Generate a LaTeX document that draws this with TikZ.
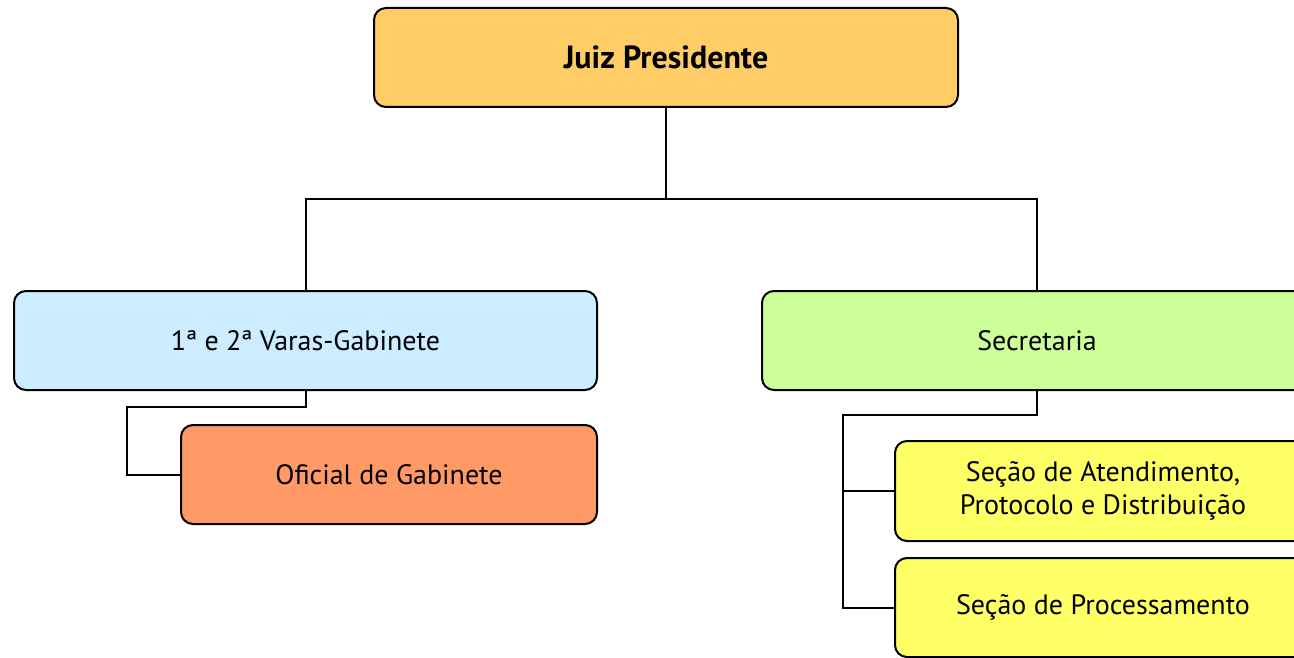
\documentclass[tikz,border=0pt]{standalone}
\usepackage{fontspec}
\setmainfont{PT Sans}
\definecolor{cjuiz}{HTML}{FFCC66}
\definecolor{cvaras}{HTML}{CCECFF}
\definecolor{csecr}{HTML}{CCFF99}
\definecolor{cofic}{HTML}{FF9966}
\definecolor{csec}{HTML}{FFFF66}
\begin{document}
\begin{tikzpicture}[x=1pt,y=-1pt,
  orgbox/.style={draw=black, line width=2pt, rounded corners=12pt, rectangle,
    inner sep=0pt, align=center, font=\fontsize{28}{33}\selectfont},
  link/.style={draw=black, line width=2pt}]
\useasboundingbox (0,0) rectangle (1294,658);
\clip (0,0) rectangle (1294,658);
\node[orgbox, fill=cjuiz, minimum width=584pt, minimum height=99pt, font=\fontsize{32}{38}\selectfont\bfseries] (juiz) at (666,57.5) {Juiz Presidente};
\node[orgbox, fill=cvaras, minimum width=583pt, minimum height=99pt] (varas) at (305.5,340.5) {1ª e 2ª Varas-Gabinete};
\node[orgbox, fill=csecr, minimum width=550pt, minimum height=99pt] (secr) at (1037,340.5) {Secretaria};
\node[orgbox, fill=cofic, minimum width=416pt, minimum height=99pt] (ofic) at (389,474.5) {Oficial de Gabinete};
\node[orgbox, fill=csec, minimum width=416pt, minimum height=100pt] (seca) at (1103,491) {Seção de Atendimento,\\Protocolo e Distribuição};
\node[orgbox, fill=csec, minimum width=416pt, minimum height=99pt] (secp) at (1103,607.5) {Seção de Processamento};
\coordinate (jmid) at (666,199);
\coordinate (v1) at (127,407);
\coordinate (s1) at (843,415);
\draw[link] (juiz.south) -- (jmid);
\draw[link] (varas.north) |- (jmid) -| (secr.north);
\draw[link] (varas.south) |- (v1) |- (ofic.west);
\draw[link] (secr.south) |- (s1) |- (secp.west);
\draw[link] (s1) |- (seca.west);
\end{tikzpicture}
\end{document}
